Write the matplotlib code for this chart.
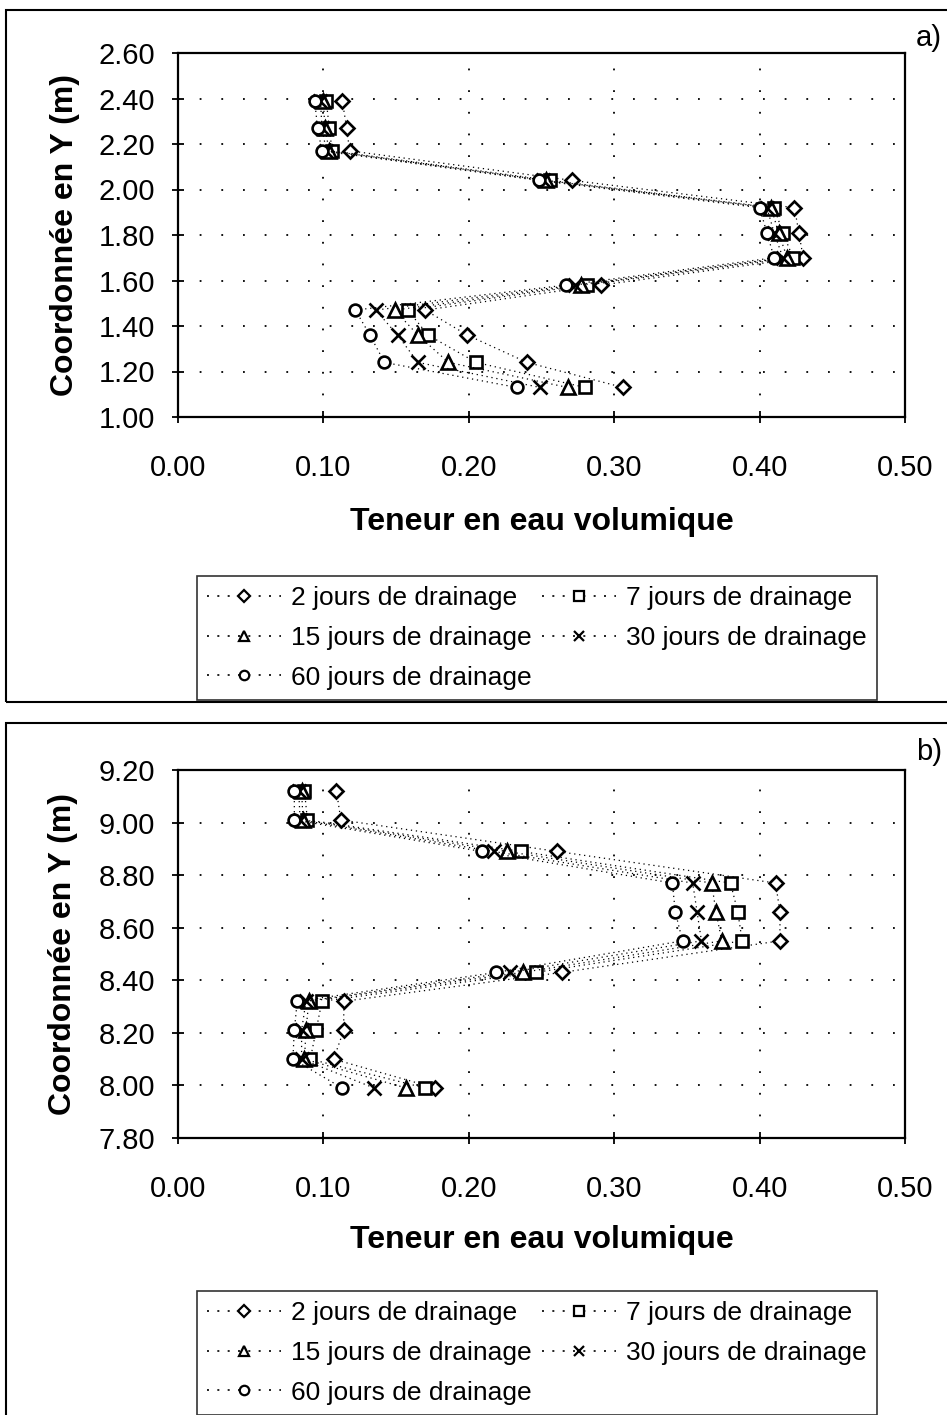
import matplotlib
matplotlib.use("Agg")
import matplotlib.pyplot as plt
from matplotlib.lines import Line2D
from matplotlib.patches import Rectangle

plt.rcParams['font.family'] = ['Liberation Sans', 'DejaVu Sans']

# ---------------- data ----------------
series_labels = ["2 jours de drainage", "7 jours de drainage", "15 jours de drainage",
                 "30 jours de drainage", "60 jours de drainage"]

# Panel a
y_a = [2.39, 2.27, 2.17, 2.04, 1.92, 1.81, 1.70, 1.58, 1.47, 1.36, 1.24, 1.13]
a_2j = [0.113, 0.116, 0.118, 0.271, 0.424, 0.427, 0.430, 0.291, 0.170, 0.199, 0.240, 0.306]
a_7j = [0.102, 0.104, 0.106, 0.256, 0.410, 0.416, 0.423, 0.281, 0.158, 0.172, 0.205, 0.280]
a_15j = [0.100, 0.101, 0.104, 0.253, 0.408, 0.413, 0.419, 0.277, 0.149, 0.165, 0.186, 0.268]
a_30j = [0.098, 0.099, 0.102, 0.251, 0.405, 0.410, 0.416, 0.273, 0.136, 0.151, 0.165, 0.249]
a_60j = [0.094, 0.096, 0.099, 0.248, 0.400, 0.405, 0.410, 0.267, 0.122, 0.132, 0.142, 0.233]

# Panel b
y_b = [9.12, 9.01, 8.89, 8.77, 8.66, 8.55, 8.43, 8.32, 8.21, 8.10, 7.99]
b_2j = [0.109, 0.112, 0.261, 0.411, 0.414, 0.414, 0.264, 0.114, 0.114, 0.107, 0.177]
b_7j = [0.087, 0.089, 0.236, 0.380, 0.385, 0.388, 0.246, 0.099, 0.095, 0.091, 0.170]
b_15j = [0.085, 0.086, 0.226, 0.367, 0.370, 0.374, 0.237, 0.090, 0.088, 0.087, 0.157]
b_30j = [0.083, 0.084, 0.217, 0.354, 0.357, 0.360, 0.228, 0.088, 0.085, 0.085, 0.135]
b_60j = [0.080, 0.080, 0.209, 0.340, 0.342, 0.347, 0.219, 0.082, 0.080, 0.079, 0.113]

x_ticks = [0.0, 0.1, 0.2, 0.3, 0.4, 0.5]
x_ticklabels = ["0.00", "0.10", "0.20", "0.30", "0.40", "0.50"]
y_ticks_a = [1.0, 1.2, 1.4, 1.6, 1.8, 2.0, 2.2, 2.4, 2.6]
y_ticks_b = [7.8, 8.0, 8.2, 8.4, 8.6, 8.8, 9.0, 9.2]

xlabel = "Teneur en eau volumique"
ylabel = "Coordonnée en Y (m)"

# ---------------- styles ----------------
styles = [
    dict(marker='D', markersize=7.5),
    dict(marker='s', markersize=8.5),
    dict(marker='^', markersize=9.5),
    dict(marker='x', markersize=9.5),
    dict(marker='o', markersize=8.5),
]

W, H = 947, 1415
fig = plt.figure(figsize=(W / 100, H / 100), dpi=100)


def fx(px):
    return px / W


def fy(py):
    return 1 - py / H


def make_panel(left, right, top, bottom, ydata, series, yticks, ylim, legend_box, tag, tagpos, xlab_y, ylab_x):
    ax = fig.add_axes([fx(left), fy(bottom), fx(right) - fx(left), fy(top) - fy(bottom)])
    proxies = []
    for xs, st, lab in zip(series, styles, series_labels):
        ax.plot(xs, ydata, color='black', linestyle=(0, (1, 3)), linewidth=0.9,
                marker=st['marker'], markersize=st['markersize'],
                markerfacecolor='white', markeredgecolor='black',
                markeredgewidth=1.9, label=lab, clip_on=False)
        proxies.append(Line2D([], [], color='black', linestyle=(0, (1.2, 5)), linewidth=1.2,
                              marker=st['marker'], markersize=st['markersize'] * 0.8,
                              markerfacecolor='white', markeredgecolor='black',
                              markeredgewidth=1.6))
    ax.set_xlim(0, 0.5)
    ax.set_ylim(*ylim)
    ax.set_xticks(x_ticks)
    ax.set_xticklabels(x_ticklabels)
    ax.set_yticks(yticks)
    ax.set_yticklabels([f"{v:.2f}" for v in yticks])
    ax.grid(True, color='black', linestyle=(0, (1, 11)), linewidth=1.3)
    ax.set_axisbelow(True)
    for s in ax.spines.values():
        s.set_linewidth(1.6)
        s.set_color('black')
    ax.tick_params(axis='x', direction='inout', length=9, width=1.3, labelsize=21, pad=22)
    ax.tick_params(axis='y', direction='inout', length=9, width=1.3, labelsize=21, pad=12)

    ax.set_xlabel(xlabel, fontsize=23, fontweight='bold', va='center')
    ax.xaxis.set_label_coords(0.5, (bottom - xlab_y) / (bottom - top))
    ax.set_ylabel(ylabel, fontsize=23, fontweight='bold', va='center', ha='center')
    ax.yaxis.set_label_coords((ylab_x - left) / (right - left), 0.5)

    # legend: row-wise order via column-major fill
    order = [0, 2, 4, 1, 3]
    lx0, ly0, lx1, ly1 = legend_box
    leg = ax.legend([proxies[i] for i in order], [series_labels[i] for i in order],
                    loc='upper left', ncol=2, mode='expand',
                    bbox_to_anchor=(fx(lx0), fy(ly1), fx(lx1) - fx(lx0), fy(ly0) - fy(ly1)),
                    bbox_transform=fig.transFigure, fontsize=19, frameon=True,
                    fancybox=False, edgecolor='black', borderaxespad=0,
                    handlelength=2.8, handletextpad=0.4, labelspacing=0.6,
                    borderpad=0.38, columnspacing=0.5)
    leg.get_frame().set_linewidth(1.2)

    fig.text(fx(tagpos[0]), fy(tagpos[1]), tag, fontsize=21, ha='center', va='center')
    return ax


make_panel(178, 905, 53, 417, y_a, [a_2j, a_7j, a_15j, a_30j, a_60j], y_ticks_a, (1.0, 2.6),
           (197, 576, 877, 697), "a)", (929, 38), 522, 65)
make_panel(178, 905, 770, 1138, y_b, [b_2j, b_7j, b_15j, b_30j, b_60j], y_ticks_b, (7.8, 9.2),
           (197, 1291, 877, 1412), "b)", (929, 752), 1240, 63)

# panel frames
for (t, b) in [(10, 702), (723, 1440)]:
    fig.patches.append(Rectangle((fx(6), fy(b)), fx(980) - fx(6), fy(t) - fy(b),
                                 transform=fig.transFigure, fill=False,
                                 edgecolor='black', linewidth=1.5))

fig.savefig("out.png", dpi=100)
